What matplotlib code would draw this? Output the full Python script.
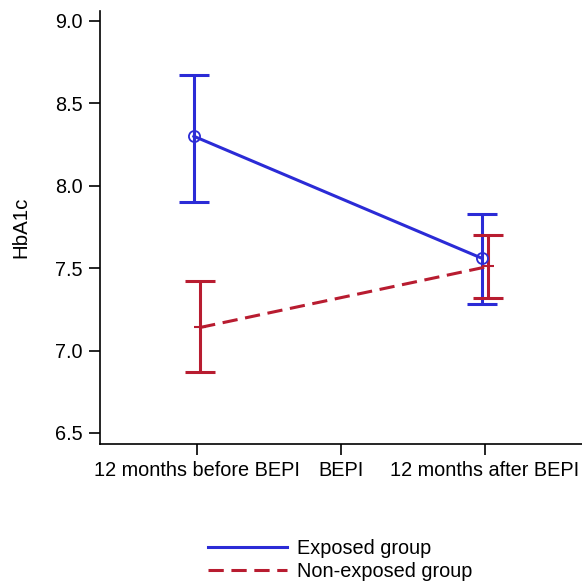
import matplotlib
matplotlib.use("Agg")
import matplotlib.pyplot as plt
from matplotlib.lines import Line2D

plt.rcParams['font.family'] = ['Liberation Sans', 'DejaVu Sans']

# data
timepoints = ["12 months before BEPI", "BEPI", "12 months after BEPI"]
exp_x = [0, 2]
exp_mean = [8.30, 7.56]
exp_low = [7.90, 7.28]
exp_high = [8.67, 7.83]
non_mean = [7.14, 7.51]
non_low = [6.87, 7.32]
non_high = [7.42, 7.70]

blue = "#2b2bd6"
red = "#b81c30"
off = 0.022
fs = 14.3

fig = plt.figure(figsize=(5.82, 5.83), dpi=100)
ax = fig.add_axes([100/582, (583-444)/583, 1 - 100/582, (444-11)/583])

# exposed group
ex = [x - off for x in exp_x]
ax.errorbar(ex, exp_mean,
            yerr=[[m - l for m, l in zip(exp_mean, exp_low)], [h - m for m, h in zip(exp_mean, exp_high)]],
            fmt='none', ecolor=blue, elinewidth=2.2, capsize=11, capthick=2.2, zorder=3)
ax.plot(ex, exp_mean, color=blue, lw=2.2, marker='o', ms=8, mfc='none', mec=blue, mew=1.3, zorder=4)

# non-exposed group
nx = [x + off for x in exp_x]
ax.errorbar(nx, non_mean,
            yerr=[[m - l for m, l in zip(non_mean, non_low)], [h - m for m, h in zip(non_mean, non_high)]],
            fmt='none', ecolor=red, elinewidth=2.2, capsize=11, capthick=2.2, zorder=3)
ax.plot(nx, non_mean, color=red, lw=2.2, dashes=(5, 2.5), zorder=4)
ax.plot(nx, non_mean, ls='none', marker='_', ms=9, mew=1.5, color=red, zorder=4)

ax.set_xlim(-0.674, 2.674)
ax.set_ylim(6.433, 9.06)
ax.set_xticks(range(len(timepoints)))
ax.set_xticklabels(timepoints)
ax.set_yticks([6.5, 7.0, 7.5, 8.0, 8.5, 9.0])
ax.set_yticklabels(["6.5", "7.0", "7.5", "8.0", "8.5", "9.0"])
ax.tick_params(labelsize=fs, length=8, width=1.2, pad=4.5)
ax.spines['top'].set_visible(False)
ax.spines['right'].set_visible(False)
for s in ['left', 'bottom']:
    ax.spines[s].set_linewidth(1.2)
ax.set_ylabel("HbA1c", fontsize=14.8, labelpad=18)

handles = [Line2D([], [], color=blue, lw=2.2),
           Line2D([], [], color=red, lw=2.2, dashes=(5, 2.5))]
fig.legend(handles, ["Exposed group", "Non-exposed group"], loc='upper left',
           bbox_to_anchor=(208/582, (583-539)/583), frameon=False, fontsize=fs,
           handlelength=4.0, handletextpad=0.5, labelspacing=0.2,
           borderpad=0, borderaxespad=0)

fig.savefig("out.png", dpi=100)
